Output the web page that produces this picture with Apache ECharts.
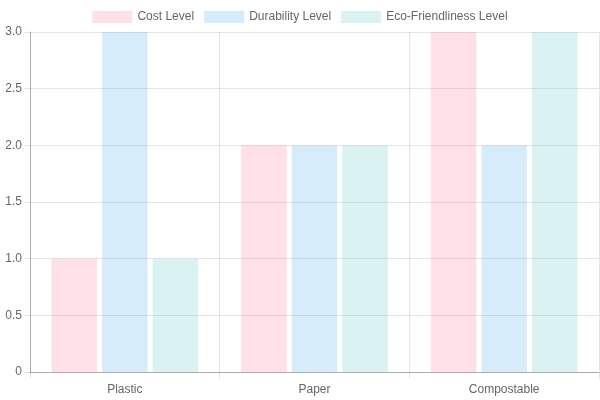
<!DOCTYPE html>
<html>
<head>
<meta charset="utf-8">
<script src="https://cdn.jsdelivr.net/npm/echarts@6/dist/echarts.min.js"></script>
<style>
  html, body { margin: 0; padding: 0; background: #fff; }
  #chart { width: 600px; height: 400px; }
</style>
</head>
<body>
<div id="chart"></div>
<script>
// 材料对比数据
var categories = ['Plastic', 'Paper', 'Compostable'];
var seriesNames = ['Cost Level', 'Durability Level', 'Eco-Friendliness Level'];
var costLevel = [1, 2, 3];
var durabilityLevel = [3, 2, 2];
var ecoLevel = [1, 2, 3];
var colors = ['rgba(255,99,132,0.2)', 'rgba(54,162,235,0.2)', 'rgba(75,192,192,0.2)'];

var myChart = echarts.init(document.getElementById('chart'));

function makeSeries(name, data, color) {
    return {
        name: name,
        type: 'bar',
        data: data,
        barWidth: '24%',
        barGap: '11%',
        itemStyle: { color: color },
        emphasis: { disabled: true }
    };
}

var option = {
    animation: false,
    textStyle: { fontFamily: 'Liberation Sans, Arial, sans-serif' },
    legend: {
        top: 6,
        left: 'center',
        itemWidth: 40,
        itemHeight: 12,
        itemGap: 10,
        icon: 'rect',
        textStyle: { color: '#666', fontSize: 12 },
        data: seriesNames
    },
    grid: { left: 30, right: 1, top: 32, bottom: 28, containLabel: false },
    xAxis: {
        type: 'category',
        data: categories,
        boundaryGap: true,
        axisLine: { lineStyle: { color: 'rgba(0,0,0,0.25)' } },
        axisTick: { show: true, length: 7, lineStyle: { color: 'rgba(0,0,0,0.1)' } },
        splitLine: { show: true, lineStyle: { color: 'rgba(0,0,0,0.1)' } },
        axisLabel: { color: '#666', fontSize: 12, margin: 12 }
    },
    yAxis: {
        type: 'value',
        min: 0,
        max: 3,
        interval: 0.5,
        axisLine: { show: true, lineStyle: { color: 'rgba(0,0,0,0.25)' } },
        axisTick: { show: true, length: 6, lineStyle: { color: 'rgba(0,0,0,0.1)' } },
        splitLine: { lineStyle: { color: 'rgba(0,0,0,0.1)' } },
        axisLabel: {
            color: '#666',
            fontSize: 12,
            margin: 8,
            formatter: function (v) { return v === 0 ? '0' : v.toFixed(1); }
        }
    },
    series: [
        makeSeries(seriesNames[0], costLevel, colors[0]),
        makeSeries(seriesNames[1], durabilityLevel, colors[1]),
        makeSeries(seriesNames[2], ecoLevel, colors[2])
    ]
};
myChart.setOption(option);
</script>
</body>
</html>
